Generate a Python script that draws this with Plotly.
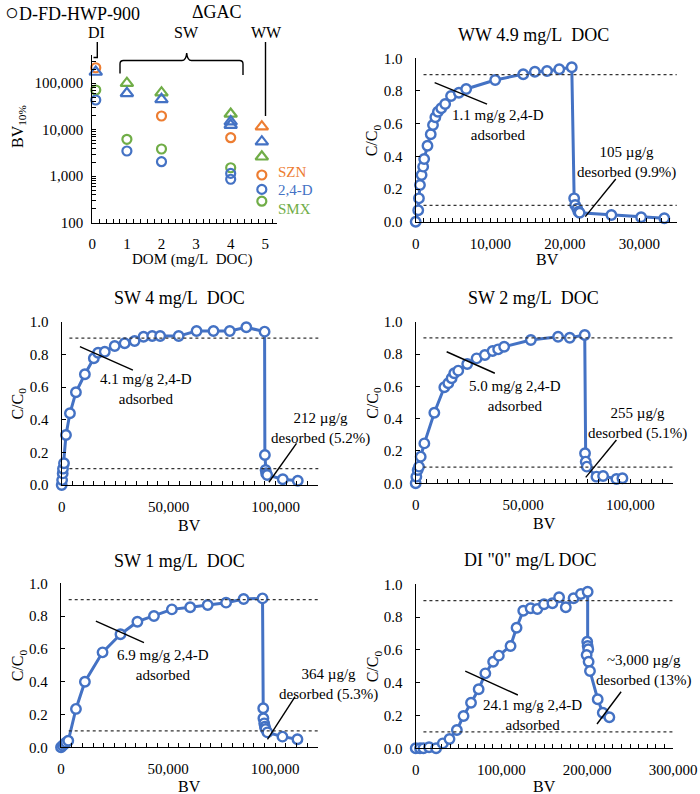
import plotly.graph_objects as go

# ---------------- data ----------------
# Panel (a): BV10% vs DOM (mg/L DOC)
dom_fd_szn = [0.1, 2, 4, 4.9]
bv_fd_szn = [215000, 19700, 6730, 1060]
dom_fd_24d = [0.1, 1, 2, 4, 4, 4.9]
bv_fd_24d = [43500, 3480, 2050, 1150, 860, 520]
dom_fd_smx = [0.1, 1, 2, 4, 4.9]
bv_fd_smx = [71400, 6210, 3850, 1520, 290]
dom_gac_szn = [4.9]
bv_gac_szn = [11600]
dom_gac_24d = [0.1, 1, 2, 4, 4, 4.9]
bv_gac_24d = [174000, 60700, 45000, 14900, 12600, 5520]
dom_gac_smx = [1, 2, 4, 4.9]
bv_gac_smx = [100000, 62500, 21800, 2620]

# WW 4.9 mg/L DOC
ww_bv = [0, 340, 435, 570, 790, 1000, 1135, 1580, 2015, 2320, 2635, 2980, 3425, 3950, 4740,
         5790, 6770, 10660, 14420, 15980, 17610, 19250, 20930, 21250, 21380, 21670, 21820,
         21980, 26240, 30230, 33340]
ww_c = [0.0, 0.07, 0.143, 0.225, 0.286, 0.337, 0.384, 0.465, 0.535, 0.592, 0.639, 0.673, 0.694,
        0.72, 0.769, 0.789, 0.812, 0.867, 0.902, 0.918, 0.922, 0.933, 0.945, 0.143, 0.102, 0.08,
        0.061, 0.055, 0.041, 0.027, 0.021]

# SW 4 mg/L DOC
sw4_bv = [0, 200, 465, 600, 1070, 2000, 3860, 6650, 10840, 15020, 17020, 20140, 24790, 29440,
          34090, 38280, 42330, 46050, 54700, 63070, 70980, 78600, 86330, 94880, 95020, 95350,
          95600, 96100, 103400, 110400]
sw4_c = [0, 0.03, 0.071, 0.1, 0.133, 0.306, 0.439, 0.568, 0.678, 0.776, 0.81, 0.816, 0.851,
         0.868, 0.882, 0.908, 0.912, 0.912, 0.912, 0.943, 0.943, 0.943, 0.966, 0.939, 0.184,
         0.092, 0.072, 0.061, 0.035, 0.026]

# SW 2 mg/L DOC
sw2_bv = [0, 300, 930, 1550, 2330, 4030, 8680, 13330, 15190, 16740, 17950, 19810, 24000, 28370,
          32230, 35810, 38420, 41210, 53630, 66330, 71770, 78740, 78880, 79200, 79700, 84200,
          87300, 93500, 96300]
sw2_c = [0, 0.041, 0.082, 0.103, 0.165, 0.247, 0.437, 0.594, 0.619, 0.65, 0.681, 0.697, 0.738,
         0.773, 0.794, 0.819, 0.829, 0.845, 0.887, 0.907, 0.901, 0.918, 0.186, 0.134, 0.103,
         0.041, 0.045, 0.027, 0.031]

# SW 1 mg/L DOC
sw1_bv = [0, 800, 1600, 2400, 3400, 6980, 11160, 19400, 27770, 35670, 43400, 51770, 60320, 68500,
          77070, 85260, 94100, 94420, 94500, 94880, 95200, 95500, 96400, 103400, 110400]
sw1_c = [0, 0.01, 0.02, 0.03, 0.04, 0.234, 0.4, 0.579, 0.689, 0.766, 0.801, 0.841, 0.854, 0.868,
         0.882, 0.904, 0.908, 0.238, 0.177, 0.146, 0.126, 0.112, 0.091, 0.065, 0.049]

# DI "0" mg/L DOC
di_bv = [0, 5000, 9000, 15600, 23800, 31600, 39400, 48000, 55800, 64500, 73400, 81200, 90300,
         96900, 110600, 117600, 125400, 134000, 141800, 149600, 159400, 167200, 175000, 184100,
         192600, 200500, 200000, 200500, 201200, 199300, 201600, 203200, 212200, 218100, 225800]
di_c = [0, 0, 0, 0.006, 0, 0.03, 0.057, 0.112, 0.197, 0.278, 0.36, 0.457, 0.528, 0.565, 0.624,
        0.735, 0.839, 0.854, 0.849, 0.878, 0.884, 0.921, 0.86, 0.915, 0.941, 0.955, 0.65, 0.624,
        0.604, 0.569, 0.528, 0.471, 0.299, 0.217, 0.189]

# ---------------- styling ----------------
W, H = 700, 794
FONT = "Liberation Serif, Times New Roman, serif"
BLUE = "#4472C4"
ORANGE = "#ED7D31"
GREEN = "#70AD47"


def X(p):
    return p / W


def Y(p):
    return 1 - p / H


fig = go.Figure()

tickfont = dict(size=15, family=FONT, color="black")


def ax_common():
    return dict(showline=True, linecolor="black", linewidth=1.3, showgrid=False, zeroline=False,
                ticks="inside", ticklen=4, tickwidth=1.2, tickcolor="black",
                tickfont=tickfont, fixedrange=True, automargin=False)


# Top-left panel axes
xa = ax_common()
xa.update(domain=[X(92.3), X(276.7)], range=[0, 5.33], dtick=1, tick0=0, anchor="y",
          ticklabelstandoff=7,
          minor=dict(dtick=0.2, tick0=0, ticks="inside", ticklen=4, tickwidth=1.2,
                     tickcolor="black", showgrid=False))
ya = ax_common()
minor_log = [m * 10 ** e for e in range(2, 6) for m in range(2, 10)]
ya.update(domain=[Y(222.7), Y(55.3)], type="log", range=[2, 5.6], anchor="x",
          tickvals=[100, 1000, 10000, 100000], ticktext=["100", "1,000", "10,000", "100,000"],
          ticklabelstandoff=5,
          minor=dict(tickvals=minor_log, ticks="inside", ticklen=4, tickwidth=1.2,
                     tickcolor="black", showgrid=False))
fig.update_layout(xaxis=xa, yaxis=ya)

# scatter series of panel (a)
series_a = [
    (dom_fd_szn, bv_fd_szn, "circle-open", ORANGE),
    (dom_fd_smx, bv_fd_smx, "circle-open", GREEN),
    (dom_fd_24d, bv_fd_24d, "circle-open", BLUE),
    (dom_gac_szn, bv_gac_szn, "triangle-up-open", ORANGE),
    (dom_gac_smx, bv_gac_smx, "triangle-up-open", GREEN),
    (dom_gac_24d, bv_gac_24d, "triangle-up-open", BLUE),
]
for xs, ys, sym, col in series_a:
    fig.add_trace(go.Scatter(x=xs, y=ys, mode="markers", xaxis="x", yaxis="y",
                             marker=dict(symbol=sym, size=9 if "circle" in sym else 11,
                                         color=col, line=dict(width=2.2, color=col)),
                             cliponaxis=False, showlegend=False))

# breakthrough panels
panels = [
    # n, bv, c, xdom(px), ydom(px), xmax, dtick, minor
    ("2", ww_bv, ww_c, (415.7, 676.7), (221.7, 58.3), 35000, 10000, 1000),
    ("3", sw4_bv, sw4_c, (61.7, 318.3), (485.0, 321.7), 120000, 50000, 5000),
    ("4", sw2_bv, sw2_c, (415.7, 673.3), (483.3, 321.7), 120000, 50000, 5000),
    ("5", sw1_bv, sw1_c, (61.0, 318.0), (747.3, 583.3), 120000, 50000, 5000),
    ("6", di_bv, di_c, (415.7, 673.0), (748.3, 584.3), 300000, 100000, 10000),
]
panel_geom = {}

shapes = []
layout_axes = {}
for n, bv, cc, xd, yd, xmax, dt, mn in panels:
    panel_geom[n] = (xd, yd, xmax)
    xa = ax_common()
    xa.update(domain=[X(xd[0]), X(xd[1])], range=[0, xmax], dtick=dt, tick0=0, tickformat=",",
              anchor="y" + n, ticklabelstandoff=8,
              minor=dict(dtick=mn, tick0=0, ticks="inside", ticklen=4, tickwidth=1.2,
                         tickcolor="black", showgrid=False))
    ya = ax_common()
    ya.update(domain=[Y(yd[0]), Y(yd[1])], range=[0, 1.0], dtick=0.2, tick0=0, tickformat=".1f",
              anchor="x" + n, ticklabelstandoff=9)
    layout_axes["xaxis" + n] = xa
    layout_axes["yaxis" + n] = ya
    for lvl in (0.9, 0.1):
        shapes.append(dict(type="line", xref="x%s domain" % n, yref="y" + n, x0=0.03, x1=1.0,
                           y0=lvl, y1=lvl, line=dict(color="#333333", width=1.2, dash="dot")))
    fig.add_trace(go.Scatter(x=bv, y=cc, mode="lines+markers", xaxis="x" + n, yaxis="y" + n,
                             line=dict(color=BLUE, width=3),
                             marker=dict(symbol="circle", size=9.5, color="white",
                                         line=dict(color=BLUE, width=2.4)),
                             cliponaxis=False, showlegend=False))
fig.update_layout(**layout_axes)

# leader lines and labels (data coordinates of each panel)
notes = [
    ("2", (2540, 0.851, 9565, 0.72), (11100, 0.589), "1.1 mg/g 2,4-D<br>adsorbed"),
    ("2", (22740, 0.031, 26830, 0.261), (28230, 0.365), "105 µg/g<br>desorbed (9.9%)"),
    ("3", (8510, 0.847, 33300, 0.704), (39530, 0.588), "4.1 mg/g 2,4-D<br>adsorbed"),
    ("3", (96900, 0.017, 109800, 0.255), (121000, 0.349), "212 µg/g<br>desorbed (5.2%)"),
    ("4", (14420, 0.814, 36880, 0.681), (46200, 0.54), "5.0 mg/g 2,4-D<br>adsorbed"),
    ("4", (79200, 0.037, 93500, 0.268), (103500, 0.367), "255 µg/g<br>desorbed (5.1%)"),
    ("5", (16280, 0.77, 38740, 0.638), (47600, 0.502), "6.9 mg/g 2,4-D<br>adsorbed"),
    ("5", (96400, 0.049, 109300, 0.309), (125100, 0.38), "364 µg/g<br>desorbed (5.3%)"),
    ("6", (57800, 0.471, 119100, 0.325), (136000, 0.206), "24.1 mg/g 2,4-D<br>adsorbed"),
    ("6", (211400, 0.148, 239500, 0.345), (266100, 0.474), "~3,000 µg/g<br>desorbed (13%)"),
]


def to_paper(n, bvx, cy):
    xd, yd, xmax = panel_geom[n]
    px = xd[0] + (xd[1] - xd[0]) * bvx / xmax
    py = yd[0] + (yd[1] - yd[0]) * cy
    return X(px), Y(py)


annotations = []
for n, (x0, y0, x1, y1), (tx, ty), txt in notes:
    shapes.append(dict(type="line", xref="x" + n, yref="y" + n, x0=x0, y0=y0, x1=x1, y1=y1,
                       line=dict(color="black", width=1.4)))
    ax_, ay_ = to_paper(n, tx, ty)
    annotations.append(dict(xref="paper", yref="paper", x=ax_, y=ay_, text=txt, showarrow=False,
                            xanchor="center", yanchor="middle",
                            font=dict(size=15, family=FONT, color="black")))


# titles, axis titles (pixel positions)
def ptext(x, y, txt, size, color="black", angle=0, xanchor="center"):
    annotations.append(dict(xref="paper", yref="paper", x=X(x), y=Y(y), text=txt,
                            showarrow=False, xanchor=xanchor, yanchor="middle", textangle=angle,
                            font=dict(size=size, family=FONT, color=color)))


ptext(533.3, 35, "WW 4.9 mg/L\u00a0 DOC", 18)
ptext(180, 298.3, "SW 4 mg/L\u00a0 DOC", 18)
ptext(533.3, 298.3, "SW 2 mg/L\u00a0 DOC", 18)
ptext(180, 560.7, "SW 1 mg/L\u00a0 DOC", 18)
ptext(530, 560, "DI \"0\" mg/L DOC", 18)

for bx, by in [(547.7, 259.5), (190, 525), (544.3, 523.5), (189.5, 786.7), (544.3, 786.7)]:
    ptext(bx, by, "BV", 16)
for cx, cy in [(373.3, 140), (18.3, 403.3), (373.3, 402.5), (18.3, 665), (373.3, 666)]:
    ptext(cx, cy, "C/C<sub>0</sub>", 16, angle=-90)

ptext(18.3, 126.7, "BV<sub>10%</sub>", 16, angle=-90)
ptext(191.7, 259.5, "DOM (mg/L\u00a0 DOC)", 15)
ptext(3, 12, "<span style='font-size:23px'>○</span>D-FD-HWP-900", 18, xanchor="left")
ptext(190, 12, "ΔGAC", 18, xanchor="left")
ptext(96.7, 33, "DI", 16)
ptext(186.7, 33, "SW", 16)
ptext(266.7, 33, "WW", 16)
ptext(275.5, 171.7, "SZN", 15, color=ORANGE, xanchor="left")
ptext(275.5, 190, "2,4-D", 15, color=BLUE, xanchor="left")
ptext(275.5, 209.3, "SMX", 15, color=GREEN, xanchor="left")


def ppath(cmds):
    out = []
    for c, pts in cmds:
        coords = " ".join("%.5f,%.5f" % (X(a), Y(b)) for a, b in pts)
        out.append(c + " " + coords)
    return " ".join(out)


brace = ppath([("M", [(120, 73.5)]), ("L", [(120, 64)]), ("Q", [(120, 60.5), (123.5, 60.5)]),
               ("L", [(182, 60.5)]), ("Q", [(186, 60.5), (186.7, 53)]),
               ("Q", [(187.4, 60.5), (191.4, 60.5)]), ("L", [(239.5, 60.5)]),
               ("Q", [(243, 60.5), (243, 64)]), ("L", [(243, 75)])])
di_hook = ppath([("M", [(97.3, 42)]), ("L", [(97.3, 57.5)]), ("L", [(93.5, 57.5)])])
ww_line = ppath([("M", [(265.5, 42)]), ("L", [(265.5, 116)])])
for p in (brace, di_hook, ww_line):
    shapes.append(dict(type="path", xref="paper", yref="paper", path=p,
                       line=dict(color="black", width=1.4)))

fig.update_layout(width=W, height=H, margin=dict(l=0, r=0, t=0, b=0, autoexpand=False),
                  paper_bgcolor="white", plot_bgcolor="white",
                  font=dict(family=FONT, color="black"),
                  shapes=shapes, annotations=annotations, showlegend=False)

fig.write_html("out.html", config={"displayModeBar": False},
               post_script="document.body.style.margin='0px';")
